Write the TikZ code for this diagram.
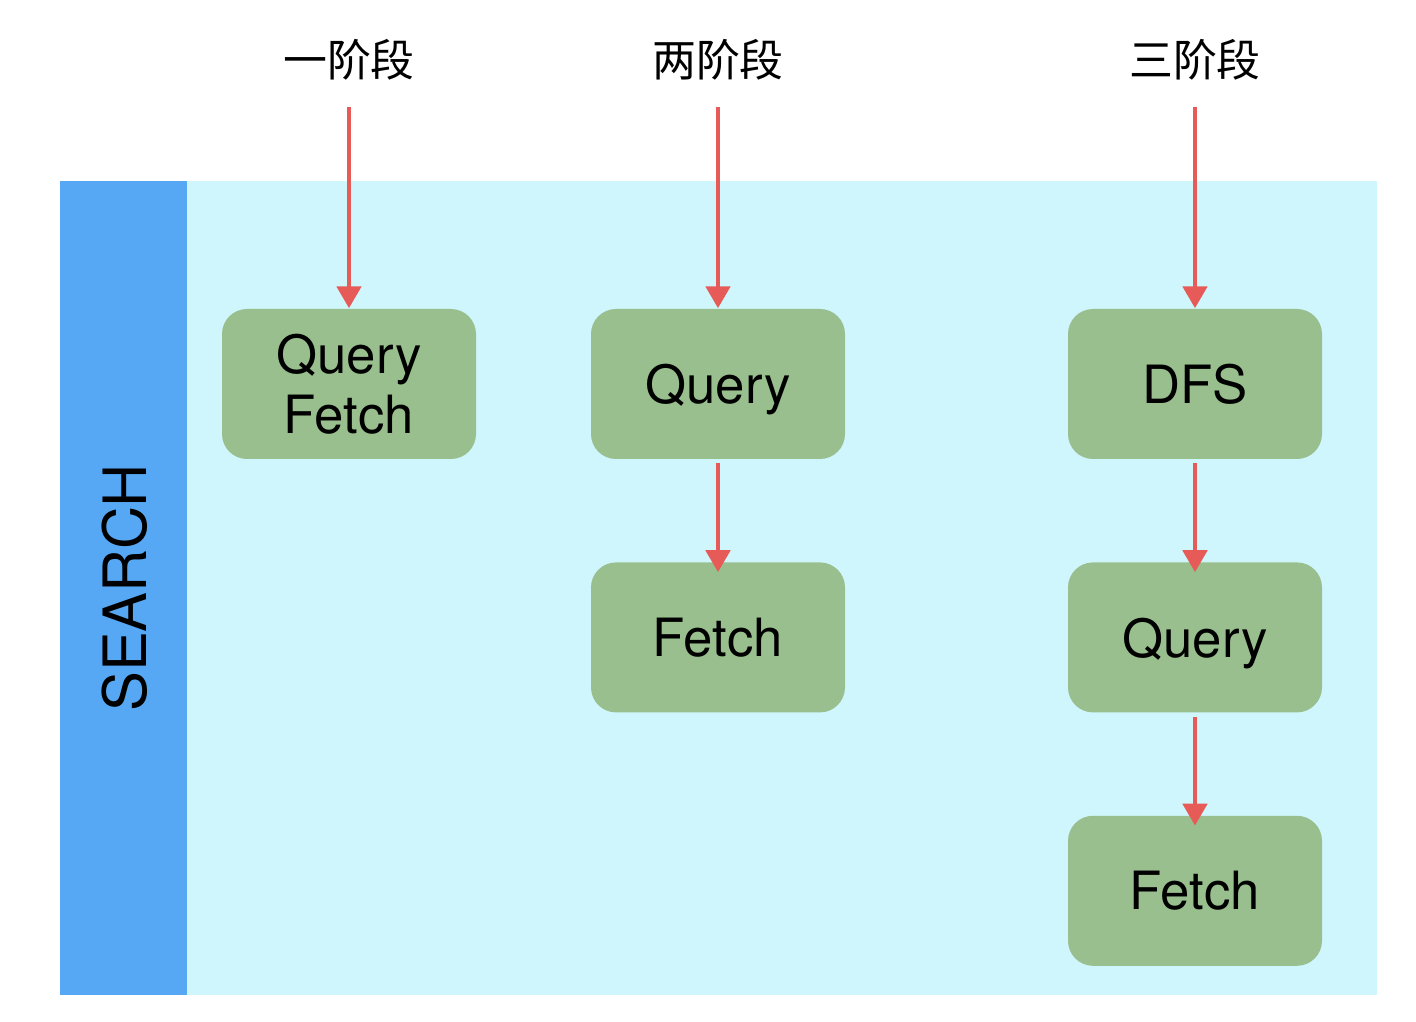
\documentclass[tikz,border=0pt]{standalone}
\usepackage{fontspec}
\setmainfont{TeX Gyre Heros}
\newfontfamily\cjk{Noto Sans CJK SC}
\usetikzlibrary{arrows.meta,positioning}

\definecolor{barblue}{HTML}{56A8F5}
\definecolor{panelcyan}{HTML}{CFF6FD}
\definecolor{phasegreen}{HTML}{98BF8D}
\definecolor{arrowred}{HTML}{E65B58}

\begin{document}
\begin{tikzpicture}[
    node distance=1.02cm and 1cm,
    phase/.style={fill=phasegreen, rounded corners=0.25cm, align=center, minimum width=2.54cm, minimum height=1.5cm, font=\fontsize{15}{18}\selectfont, inner sep=0pt},
    title/.style={font=\cjk\fontsize{12.5}{14}\selectfont},
    arrow/.style={-{Triangle[width=2.4mm,length=2.2mm]}, line width=1.4pt, arrowred}
]
\useasboundingbox (0,0) rectangle (14.16,-10.22);
\fill[panelcyan] (1.87,-1.81) rectangle (13.77,-9.95);
\fill[barblue] (0.60,-1.81) rectangle (1.87,-9.95);
\node[rotate=90, font=\fontsize{17}{20}\selectfont] (search) at (1.25,-5.88) {SEARCH};

\node[title] (one) at (3.49,-0.60) {一阶段};
\node[title] (two) at (7.18,-0.60) {两阶段};
\node[title] (three) at (11.95,-0.60) {三阶段};

\node[phase] (qf1) at (3.49,-3.84) {Query\\[-1pt]Fetch};
\node[phase, text depth=0pt] (q2) at (7.18,-3.84) {Query};
\node[phase, below=of q2] (f2) {Fetch};
\node[phase] (dfs3) at (11.95,-3.84) {DFS};
\node[phase, text depth=0pt, below=of dfs3] (q3) {Query};
\node[phase, below=of q3] (f3) {Fetch};

\draw[arrow, shorten <=4pt] (one) -- (qf1);
\draw[arrow, shorten <=4pt] (two) -- (q2);
\draw[arrow, shorten <=4pt] (three) -- (dfs3);
\draw[arrow, shorten <=1pt, shorten >=-3pt] (q2) -- (f2);
\draw[arrow, shorten <=1pt, shorten >=-3pt] (dfs3) -- (q3);
\draw[arrow, shorten <=1pt, shorten >=-3pt] (q3) -- (f3);
\end{tikzpicture}
\end{document}
